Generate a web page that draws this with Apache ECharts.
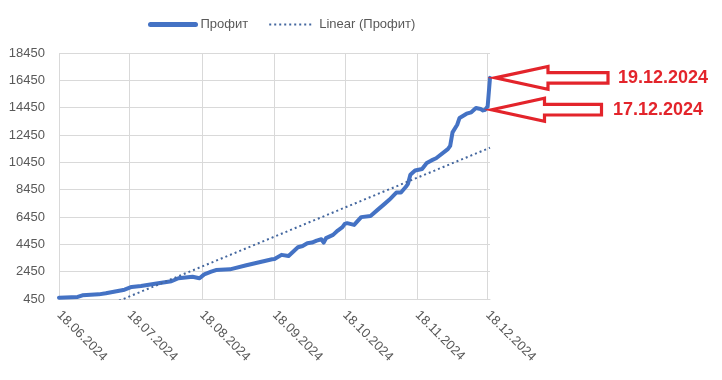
<!DOCTYPE html>
<html>
<head>
<meta charset="utf-8">
<script src="https://cdn.jsdelivr.net/npm/echarts@6/dist/echarts.min.js"></script>
<style>
  html, body { margin: 0; padding: 0; background: #fff; }
  #chart { width: 722px; height: 380px; }
</style>
</head>
<body>
<div id="chart"></div>
<script>
// точки кривой "Профит" (дата -> значение)
const pointDates = [
  '18.06.2024', '26.06.2024', '28.06.2024', '05.07.2024', '08.07.2024', '16.07.2024',
  '19.07.2024', '23.07.2024', '29.07.2024', '05.08.2024', '08.08.2024', '14.08.2024',
  '17.08.2024', '19.08.2024', '22.08.2024', '24.08.2024', '30.08.2024', '06.09.2024',
  '17.09.2024', '18.09.2024', '21.09.2024', '24.09.2024', '28.09.2024', '30.09.2024',
  '02.10.2024', '04.10.2024', '06.10.2024', '08.10.2024', '09.10.2024', '10.10.2024',
  '13.10.2024', '15.10.2024', '17.10.2024', '18.10.2024', '19.10.2024', '22.10.2024',
  '25.10.2024', '29.10.2024', '01.11.2024', '04.11.2024', '06.11.2024', '09.11.2024',
  '11.11.2024', '13.11.2024', '14.11.2024', '15.11.2024', '17.11.2024', '20.11.2024',
  '22.11.2024', '24.11.2024', '26.11.2024', '01.12.2024', '02.12.2024', '03.12.2024',
  '05.12.2024', '06.12.2024', '09.12.2024', '11.12.2024', '13.12.2024', '15.12.2024',
  '16.12.2024', '17.12.2024', '18.12.2024', '19.12.2024'
];
const profitValues = [
  550, 600, 720, 790, 870, 1130,
  1330, 1400, 1570, 1750, 1970, 2080,
  1970, 2250, 2450, 2570, 2620, 2920,
  3360, 3380, 3680, 3600, 4240, 4330,
  4530, 4580, 4720, 4820, 4580, 4900,
  5140, 5460, 5710, 5950, 6000, 5870,
  6440, 6530, 6970, 7410, 7710, 8240,
  8240, 8640, 8880, 9540, 9850, 9960,
  10400, 10590, 10750, 11420, 11660, 12640,
  13200, 13700, 14010, 14110, 14420, 14350,
  14250, 14300, 14550, 16630
];

// линейный тренд: концы отрезка
const trendDates = ['18.06.2024', '19.12.2024'];
const trendValues = [-1490, 11520];

// подписи-стрелки справа
const noteDates = ['19.12.2024', '17.12.2024'];
const noteTexts = ['19.12.2024', '17.12.2024'];

const yMin = 450, yMax = 18450, yStep = 2000;

// все дни от первой до последней даты (ось дат как в Excel)
function fmt(d) {
  return String(d.getDate()).padStart(2, '0') + '.' + String(d.getMonth() + 1).padStart(2, '0') + '.' + d.getFullYear();
}
const days = [];
for (let d = new Date(2024, 5, 18); d <= new Date(2024, 11, 19); d.setDate(d.getDate() + 1)) {
  days.push(fmt(d));
}

function alignTo(dates, values) {
  const map = {};
  dates.forEach((d, i) => { map[d] = values[i]; });
  return days.map(d => (d in map ? map[d] : null));
}

const isMonthTick = (i, v) => v.slice(0, 2) === '18';

var chart = echarts.init(document.getElementById('chart'), null, { renderer: 'canvas' });

chart.setOption({
  animation: false,
  textStyle: { fontFamily: 'Liberation Sans, Arial, sans-serif' },
  legend: {
    left: 143,
    top: 13,
    itemWidth: 45,
    itemHeight: 14,
    itemGap: 20,
    itemStyle: { opacity: 0 },   // без кружков, только линия
    textStyle: { color: '#595959', fontSize: 13 },
    data: [
      { name: 'Профит', lineStyle: { width: 5 } },
      { name: 'Linear (Профит)' }
    ]
  },
  grid: { left: 59, right: 232, top: 53, bottom: 81, containLabel: false },
  xAxis: {
    type: 'category',
    data: days,
    boundaryGap: false,
    axisLine: { lineStyle: { color: '#d9d9d9', width: 1 } },
    axisTick: { show: false },
    axisLabel: {
      interval: isMonthTick,
      rotate: -45,
      margin: 14,
      color: '#595959',
      fontSize: 13
    },
    splitLine: { show: true, interval: isMonthTick, lineStyle: { color: '#d9d9d9', width: 1 } }
  },
  yAxis: {
    type: 'value',
    min: yMin,
    max: yMax,
    interval: yStep,
    axisLine: { show: false },
    axisTick: { show: false },
    axisLabel: { color: '#595959', fontSize: 13, margin: 14, formatter: v => String(v) },
    splitLine: { lineStyle: { color: '#d9d9d9', width: 1 } }
  },
  series: [
    {
      name: 'Профит',
      type: 'line',
      data: alignTo(pointDates, profitValues),
      connectNulls: true,
      symbol: 'none',
      showSymbol: false,
      color: '#4472c4',
      lineStyle: { color: '#4472c4', width: 4, join: 'round', cap: 'round' }
    },
    {
      name: 'Linear (Профит)',
      type: 'line',
      data: alignTo(trendDates, trendValues),
      connectNulls: true,
      symbol: 'none',
      showSymbol: false,
      clip: true,
      color: '#4472c4',
      lineStyle: { color: '#44679f', width: 2, type: [2, 3] }
    }
  ]
});

// стрелки к последним точкам
function arrow(tx, ty, len) {
  const H = 53, hh = 11.5, sh = 5.3;
  return {
    type: 'polygon',
    shape: { points: [[tx, ty], [tx + H, ty - hh], [tx + H, ty - sh], [tx + len, ty - sh],
                      [tx + len, ty + sh], [tx + H, ty + sh], [tx + H, ty + hh]] },
    style: { fill: '#ffffff', stroke: '#e3242b', lineWidth: 3.2, lineJoin: 'miter' },
    z: 10
  };
}
const lastX = chart.convertToPixel({ xAxisIndex: 0 }, days[days.length - 1]);
const graphics = [];
const tipDx = [5, 1.5], lens = [113, 110], textDx = [123, 121.5];
noteDates.forEach((d, i) => {
  const y = chart.convertToPixel({ yAxisIndex: 0 }, profitValues[pointDates.indexOf(d)]);
  const tx = lastX + tipDx[i];
  graphics.push(arrow(tx, y, lens[i]));
  graphics.push({
    type: 'text',
    x: tx + textDx[i],
    y: y,
    style: { text: noteTexts[i], fill: '#e3242b', font: 'bold 18px Liberation Sans, Arial, sans-serif', verticalAlign: 'middle' },
    z: 10
  });
});
chart.setOption({ graphic: graphics });
</script>
</body>
</html>
